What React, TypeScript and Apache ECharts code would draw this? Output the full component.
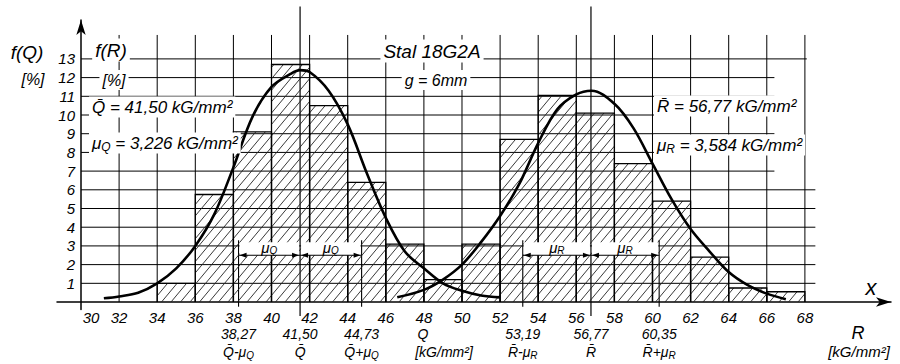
import React, { useEffect, useRef } from 'react';
import * as echarts from 'echarts';

// ---- data ----
const xTickLabels = [30, 32, 34, 36, 38, 40, 42, 44, 46, 48, 50, 52, 54, 56, 58, 60, 62, 64, 66, 68];
const yTickLabels = [1, 2, 3, 4, 5, 6, 7, 8, 9, 10, 11, 12, 13];
const gridVerticals = [32, 34, 36, 38, 40, 42, 44, 46, 48, 50, 52, 54, 56, 58, 60, 62, 64, 66, 68];
const binWidth = 2;
const qBinStarts = [34, 36, 38, 40, 42, 44, 46, 48];
const qBinPercents = [1.0, 5.75, 9.1, 12.7, 10.5, 6.4, 3.1, 1.2];
const rBinStarts = [50, 52, 54, 56, 58, 60, 62, 64, 66];
const rBinPercents = [3.1, 8.7, 11.05, 10.1, 7.4, 5.4, 2.4, 0.75, 0.55];
const qCurveX = [31.2, 32, 33, 34, 35, 36, 37, 38, 39, 40, 41, 41.5, 42, 43, 44, 45, 46, 47, 48, 49, 50, 51, 52];
const qCurveY = [0.2, 0.3, 0.5, 1.0, 1.8, 3.0, 4.7, 7.2, 9.9, 11.5, 12.2, 12.4, 12.3, 11.3, 9.5, 6.9, 4.5, 2.7, 1.8, 1.0, 0.6, 0.35, 0.25];
const rCurveX = [46.6, 48, 49, 50, 51, 52, 53, 54, 55, 56, 56.8, 58, 59, 60, 61, 62, 63, 64, 65, 66, 67];
const rCurveY = [0.25, 0.65, 1.2, 2.0, 3.2, 4.6, 6.3, 8.5, 10.3, 11.1, 11.3, 10.6, 9.3, 7.4, 5.5, 3.9, 2.7, 1.6, 0.9, 0.45, 0.15];
const statValues = [38.27, 41.5, 44.73, 53.19, 56.77, 60.35];
const statTexts = ['38,27', '41,50', '44,73', '53,19', '56,77', '60,35'];
const statSymbols = ['Q\u0304-\u03bc', 'Q\u0304', 'Q\u0304+\u03bc', 'R\u0304-\u03bc', 'R\u0304', 'R\u0304+\u03bc'];
const statSubs = ['Q', '', 'Q', 'R', '', 'R'];
const meanLines = [41.5, 56.77];
const sigmaLines = [38.27, 44.73, 53.19, 60.35];
const dimSpans: [number, number, string][] = [
  [38.27, 41.5, 'Q'], [41.5, 44.73, 'Q'], [53.19, 56.77, 'R'], [56.77, 60.35, 'R'],
];

const F = '"Liberation Sans", Arial, sans-serif';
const X_MIN = 28.74, X_MAX = 72.52, Y_MIN = -0.4, Y_MAX = 15.08;

function hatchLines(x0: number, x1: number, yt: number, yb: number) {
  const s = 9.5, k = 1.2;
  const H = yb - yt;
  const out: any[] = [];
  const cStart = Math.floor((x0 - H / k) / s) * s;
  for (let c = cStart; c <= x1; c += s) {
    const hMin = Math.max(0, (x0 - c) * k);
    const hMax = Math.min(H, (x1 - c) * k);
    if (hMax - hMin > 0.5) {
      out.push({
        type: 'line',
        shape: { x1: c + hMin / k, y1: yb - hMin, x2: c + hMax / k, y2: yb - hMax },
        style: { stroke: '#222', lineWidth: 0.9 },
      });
    }
  }
  return out;
}

const histRender = (_p: any, api: any) => {
  const s = api.value(0), h = api.value(1);
  const tl = api.coord([s, h]);
  const br = api.coord([s + binWidth, 0]);
  const children = hatchLines(tl[0], br[0], tl[1], br[1]);
  children.push({
    type: 'polyline',
    shape: { points: [[tl[0], br[1]], [tl[0], tl[1]], [br[0], tl[1]], [br[0], br[1]]] },
    style: { stroke: '#000', lineWidth: 1.3, fill: 'none' },
  });
  return { type: 'group', children };
};

const seg = (a: number[], b: number[], w: number) => ({
  type: 'line', shape: { x1: a[0], y1: a[1], x2: b[0], y2: b[1] }, style: { stroke: '#000', lineWidth: w },
});

const gridRender = (_p: any, api: any) => {
  const children: any[] = [];
  yTickLabels.forEach((l) => {
    const right = l === 13 ? 68.1 : l >= 7 ? 66.4 : 68.55;
    children.push(seg(api.coord([30, l]), api.coord([right, l]), 1));
  });
  gridVerticals.forEach((v) => {
    children.push(seg(api.coord([v, 0]), api.coord([v, 14.28]), 1));
  });
  meanLines.forEach((v) => children.push(seg(api.coord([v, -0.75]), api.coord([v, 15.8]), 1.2)));
  sigmaLines.forEach((v) => children.push(seg(api.coord([v, -0.25]), api.coord([v, 3.3]), 1.1)));
  return { type: 'group', children };
};

const dimRender = (_p: any, api: any) => {
  const children: any[] = [];
  dimSpans.forEach(([a, b, sub]) => {
    const tl = api.coord([a, 3.2]);
    const br = api.coord([b, 2.5]);
    children.push({ type: 'rect', shape: { x: tl[0] + 1, y: tl[1], width: br[0] - tl[0] - 2, height: br[1] - tl[1] }, style: { fill: '#fff' } });
    const y = br[1];
    const xa = tl[0], xb = br[0];
    children.push(seg([xa, y], [xb, y], 1));
    children.push({ type: 'polygon', shape: { points: [[xa + 1, y], [xa + 8, y - 2.5], [xa + 8, y + 2.5]] }, style: { fill: '#000' } });
    children.push({ type: 'polygon', shape: { points: [[xb - 1, y], [xb - 8, y - 2.5], [xb - 8, y + 2.5]] }, style: { fill: '#000' } });
    const c = api.coord([(a + b) / 2, 2.9]);
    children.push({
      type: 'text', x: c[0], y: c[1],
      style: {
        text: '{m|\u03bc}{s|' + sub + '}', align: 'center', verticalAlign: 'middle',
        rich: {
          m: { fontSize: 15, fontStyle: 'italic', fontFamily: F, fill: '#000', lineHeight: 16 },
          s: { fontSize: 10, fontStyle: 'italic', fontFamily: F, fill: '#000', lineHeight: 8, verticalAlign: 'bottom' },
        },
      },
    });
  });
  return { type: 'group', children };
};

const richBase = (size: number) => ({
  m: { fontSize: size, fontStyle: 'italic', fontFamily: F, fill: '#000', color: '#000', lineHeight: size + 2 },
  s: { fontSize: Math.round(size * 0.68), fontStyle: 'italic', fontFamily: F, fill: '#000', color: '#000', lineHeight: 8, verticalAlign: 'bottom' },
});

const T = (x: number, y: number, text: string, size: number, align = 'center', bg = false) => ({
  type: 'text', x, y, z: 100,
  style: {
    text, align, verticalAlign: 'middle', rich: richBase(size),
    backgroundColor: bg ? '#fff' : 'transparent', padding: bg ? [1, 3] : 0,
  },
});

const option: any = {
  animation: false,
  backgroundColor: '#fff',
  grid: { left: 57, right: 9, top: 20, bottom: 54.5, outerBoundsMode: 'none' },
  xAxis: [
    {
      type: 'value', min: X_MIN, max: X_MAX,
      axisLine: { show: true, onZero: true, symbol: ['none', 'arrow'], symbolSize: [7, 15], lineStyle: { color: '#000', width: 1.5 } },
      axisTick: { show: false }, splitLine: { show: false },
      axisLabel: {
        customValues: xTickLabels, margin: 0, color: '#000', fontSize: 15, fontStyle: 'italic', fontFamily: F,
        formatter: (v: number) => (v === 30 ? '{p|30}' : String(v)),
        rich: { p: { padding: [0, 0, 0, 20], fontSize: 15, fontStyle: 'italic', fontFamily: F, color: '#000' } },
      },
    },
    {
      type: 'value', min: X_MIN, max: X_MAX, position: 'bottom',
      axisLine: { show: false, onZero: false }, axisTick: { show: false }, splitLine: { show: false },
      axisLabel: {
        customValues: statValues, margin: 15,
        formatter: (v: number) => {
          const i = statValues.findIndex((s) => Math.abs(s - v) < 1e-6);
          if (i < 0) return '';
          return '{n|' + statTexts[i] + '}\n{m|' + statSymbols[i] + '}' + (statSubs[i] ? '{s|' + statSubs[i] + '}' : '');
        },
        rich: {
          n: { fontSize: 14, fontStyle: 'italic', fontFamily: F, color: '#000', lineHeight: 18 },
          m: { fontSize: 14, fontStyle: 'italic', fontFamily: F, color: '#000', lineHeight: 18 },
          s: { fontSize: 10, fontStyle: 'italic', fontFamily: F, color: '#000', lineHeight: 8, verticalAlign: 'bottom' },
        },
      },
    },
  ],
  yAxis: {
    type: 'value', min: Y_MIN, max: Y_MAX, offset: -24,
    axisLine: { show: true, onZero: false, symbol: ['none', 'arrow'], symbolSize: [7, 15], lineStyle: { color: '#000', width: 1.5 } },
    axisTick: { show: false }, splitLine: { show: false },
    axisLabel: { customValues: yTickLabels, margin: 6, color: '#000', fontSize: 15, fontStyle: 'italic', fontFamily: F },
  },
  series: [
    { type: 'custom', name: 'grid', z: 1, data: [0], renderItem: gridRender, silent: true },
    { type: 'custom', name: 'histQ', z: 2, encode: { x: 0, y: 1 }, data: qBinStarts.map((s, i) => [s, qBinPercents[i]]), renderItem: histRender },
    { type: 'custom', name: 'histR', z: 2, encode: { x: 0, y: 1 }, data: rBinStarts.map((s, i) => [s, rBinPercents[i]]), renderItem: histRender },
    { type: 'custom', name: 'dims', z: 3, data: [0], renderItem: dimRender, silent: true },
    {
      type: 'line', name: 'f(Q)', z: 4, smooth: 0.35, showSymbol: false, symbol: 'none',
      lineStyle: { color: '#000', width: 2.6 }, data: qCurveX.map((x, i) => [x, qCurveY[i]]),
    },
    {
      type: 'line', name: 'f(R)', z: 4, smooth: 0.35, showSymbol: false, symbol: 'none',
      lineStyle: { color: '#000', width: 2.6 }, data: rCurveX.map((x, i) => [x, rCurveY[i]]),
    },
  ],
  graphic: [
    T(27, 52, '{m|f(Q)}', 19),
    T(33, 79, '{m|[%]}', 16),
    T(111, 50, '{m|f(R)}', 19, 'center', true),
    T(114, 80, '{m|[%]}', 16, 'center', true),
    T(89, 107, '{m|Q\u0304 = 41,50 kG/mm\u00b2}', 17, 'left', true),
    T(89, 143, '{m|\u03bc}{s|Q}{m| = 3,226 kG/mm\u00b2}', 17, 'left', true),
    T(432, 51, '{m|Stal 18G2A}', 19, 'center', true),
    T(436, 80, '{m|g = 6mm}', 16, 'center', true),
    T(654, 106, '{m|R\u0304 = 56,77 kG/mm\u00b2}', 17, 'left', true),
    T(654, 145, '{m|\u03bc}{s|R}{m| = 3,584 kG/mm\u00b2}', 17, 'left', true),
    T(871, 287, '{m|x}', 22),
    T(423, 334, '{m|Q}', 14),
    T(444, 352, '{m|[kG/mm\u00b2]}', 14),
    T(858, 333, '{m|R}', 18),
    T(859, 351, '{m|[kG/mm\u00b2]}', 15),
  ],
};

export default function App() {
  const ref = useRef<HTMLDivElement>(null);
  useEffect(() => {
    const chart = echarts.init(ref.current!, null, { renderer: 'svg' });
    chart.setOption(option);
    return () => chart.dispose();
  }, []);
  return (
    <div
      ref={ref}
      style={{ position: 'absolute', left: 0, top: 0, width: 900, height: 364, background: '#fff' }}
    />
  );
}
